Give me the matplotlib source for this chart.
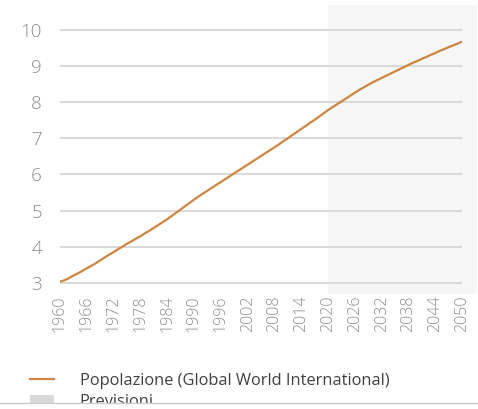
import matplotlib
matplotlib.use("Agg")
import matplotlib.pyplot as plt
from matplotlib.lines import Line2D
from matplotlib.patches import Patch, Rectangle

years = list(range(1960, 2051))
population = [
    3.03, 3.07, 3.13, 3.20, 3.26, 3.33, 3.40, 3.47, 3.54, 3.62,
    3.70, 3.78, 3.85, 3.93, 4.00, 4.08, 4.15, 4.22, 4.29, 4.37,
    4.44, 4.52, 4.60, 4.68, 4.76, 4.85, 4.94, 5.03, 5.12, 5.21,
    5.30, 5.39, 5.47, 5.55, 5.63, 5.71, 5.79, 5.87, 5.95, 6.03,
    6.11, 6.19, 6.27, 6.35, 6.43, 6.51, 6.59, 6.67, 6.75, 6.83,
    6.92, 7.00, 7.09, 7.17, 7.26, 7.34, 7.43, 7.51, 7.60, 7.69,
    7.78, 7.86, 7.94, 8.02, 8.10, 8.18, 8.26, 8.34, 8.41, 8.48,
    8.55, 8.61, 8.67, 8.73, 8.79, 8.85, 8.91, 8.97, 9.03, 9.09,
    9.14, 9.20, 9.25, 9.31, 9.36, 9.42, 9.47, 9.52, 9.57, 9.62,
    9.68,
]
xticks = list(range(1960, 2051, 6))
yticks = [3, 4, 5, 6, 7, 8, 9, 10]
forecast_start = 2020
series_label = "Popolazione (Global World International)"
forecast_label = "Previsioni"

W, H = 478, 409
fig = plt.figure(figsize=(W / 100, H / 100), dpi=100)
ax = fig.add_axes([60 / W, (H - 294) / H, 402 / W, 289 / H])
ax.set_xlim(1960, 2050)
ax.set_ylim(2.69, 10.69)

font = "Open Sans"
tick_color = "#8c8c8c"
line_color = "#cd8540"
shade_color = "#f6f6f6"

ax.add_patch(Rectangle((forecast_start, 2.69), 2053.3 - forecast_start, 8.0,
                       facecolor=shade_color, edgecolor="none", zorder=0,
                       clip_on=False))

ax.plot(years, population, color=line_color, lw=1.6, zorder=3,
        solid_capstyle="butt")

for s in ax.spines.values():
    s.set_visible(False)
ax.set_facecolor("none")
ax.set_yticks(yticks)
ax.set_xticks(xticks)
ax.yaxis.grid(True, color="#d9d9d9", lw=1.4, zorder=1)
ax.set_axisbelow(True)
ax.tick_params(axis="both", length=0)
ax.tick_params(axis="y", pad=13)
ax.tick_params(axis="x", pad=1)
ax.set_yticklabels([str(v) for v in yticks], fontsize=13.5, color=tick_color,
                   family=font, fontweight=300)
ax.set_xticklabels([str(v) for v in xticks], rotation=90, fontsize=11.5,
                   color=tick_color, family=font, fontweight=300)

handles = [Line2D([0], [0], color=line_color, lw=1.6),
           Patch(facecolor="#d9d9d9", edgecolor="none")]
leg = fig.legend(handles, [series_label, forecast_label],
                 loc="upper left", bbox_to_anchor=(15 / W, 1 - 358 / H),
                 frameon=False, handlelength=1.45, handleheight=0.72,
                 handletextpad=1.6, labelspacing=0.33,
                 prop={"family": font, "size": 11.8})
for t in leg.get_texts():
    t.set_color("#404040")

fig.add_artist(Rectangle((0, 0), 1, (H - 403) / H, transform=fig.transFigure,
                         facecolor="white", edgecolor="none", zorder=20))
fig.add_artist(Line2D([0, 1], [(H - 403) / H] * 2, transform=fig.transFigure,
                      color="#cccccc", lw=1.0, zorder=21))

fig.savefig("out.png", dpi=100)
